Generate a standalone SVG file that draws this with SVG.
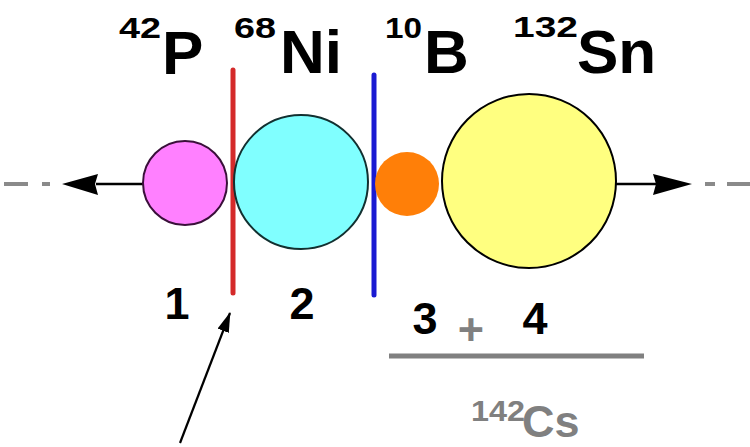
<svg xmlns="http://www.w3.org/2000/svg" width="750" height="447" viewBox="0 0 750 447">
<style>
.t{font-family:"Liberation Sans",Arial,sans-serif;font-weight:bold;fill:#000}
.sup{font-size:30px}
.big{font-size:62px}
.num{font-size:45px;text-anchor:middle}
.gray{fill:#808080}
.ax{stroke:#000;stroke-width:2.5;fill:none}
.dd{stroke:#8a8a8a;stroke-width:4;fill:none}
</style>
<defs>
<marker id="ah" viewBox="0 0 20 12" refX="19" refY="6" markerWidth="20" markerHeight="12" markerUnits="userSpaceOnUse" orient="auto">
<path d="M0,0 L20,6 L0,12 Z" fill="#000"/>
</marker>
</defs>
<g id="labels">
<text class="t sup" x="119" y="38" textLength="42" lengthAdjust="spacingAndGlyphs">42</text>
<text class="t big" x="162" y="74">P</text>
<text class="t sup" x="234" y="38" textLength="42" lengthAdjust="spacingAndGlyphs">68</text>
<text class="t big" x="280" y="73">Ni</text>
<text class="t sup" x="385" y="38" textLength="37" lengthAdjust="spacingAndGlyphs">10</text>
<text class="t big" x="424" y="73">B</text>
<text class="t sup" x="513" y="37" textLength="65" lengthAdjust="spacingAndGlyphs">132</text>
<text class="t big" x="577" y="73">Sn</text>
</g>
<g id="separators">
<line x1="233" y1="70" x2="233" y2="293" stroke="#d42a2a" stroke-width="5" stroke-linecap="round"/>
<line x1="374" y1="75" x2="374" y2="295" stroke="#1a1ad2" stroke-width="5" stroke-linecap="round"/>
</g>
<g id="connectors">
<line class="dd" x1="4" y1="184" x2="28" y2="184"/>
<line class="dd" x1="42" y1="184" x2="50" y2="184"/>
<line class="ax" x1="143" y1="184" x2="96" y2="184"/>
<path d="M62,184 L98,174 L95,184 L98,195 Z" fill="#000"/>
<line class="ax" x1="616" y1="184" x2="656" y2="184"/>
<path d="M692,184 L653,174 L656,184 L653,195 Z" fill="#000"/>
<line class="dd" x1="705" y1="184" x2="715" y2="184"/>
<line class="dd" x1="727" y1="184" x2="750" y2="184"/>
<line x1="180" y1="443" x2="230" y2="313" stroke="#000" stroke-width="2.2" marker-end="url(#ah)"/>
</g>
<g id="n1"><circle cx="185" cy="183" r="42" fill="#ff80ff" stroke="#3a103a" stroke-width="2"/></g>
<g id="n2"><circle cx="301" cy="182" r="67" fill="#80ffff" stroke="#123030" stroke-width="2"/></g>
<g id="n3"><circle cx="407" cy="184" r="32" fill="#ff7f08"/></g>
<g id="n4"><circle cx="529" cy="181" r="87" fill="#ffff80" stroke="#000" stroke-width="2"/></g>
<g id="numbers">
<text class="t num" x="177" y="319">1</text>
<text class="t num" x="302" y="319">2</text>
<text class="t num" x="425" y="334">3</text>
<text class="t num gray" x="471" y="345">+</text>
<text class="t num" x="535" y="334">4</text>
</g>
<line x1="389" y1="356" x2="644" y2="356" stroke="#808080" stroke-width="5"/>
<g id="product">
<text class="t gray" x="471" y="421" font-size="30" textLength="54" lengthAdjust="spacingAndGlyphs">142</text>
<text class="t gray" x="522" y="437" font-size="45">Cs</text>
</g>
</svg>
